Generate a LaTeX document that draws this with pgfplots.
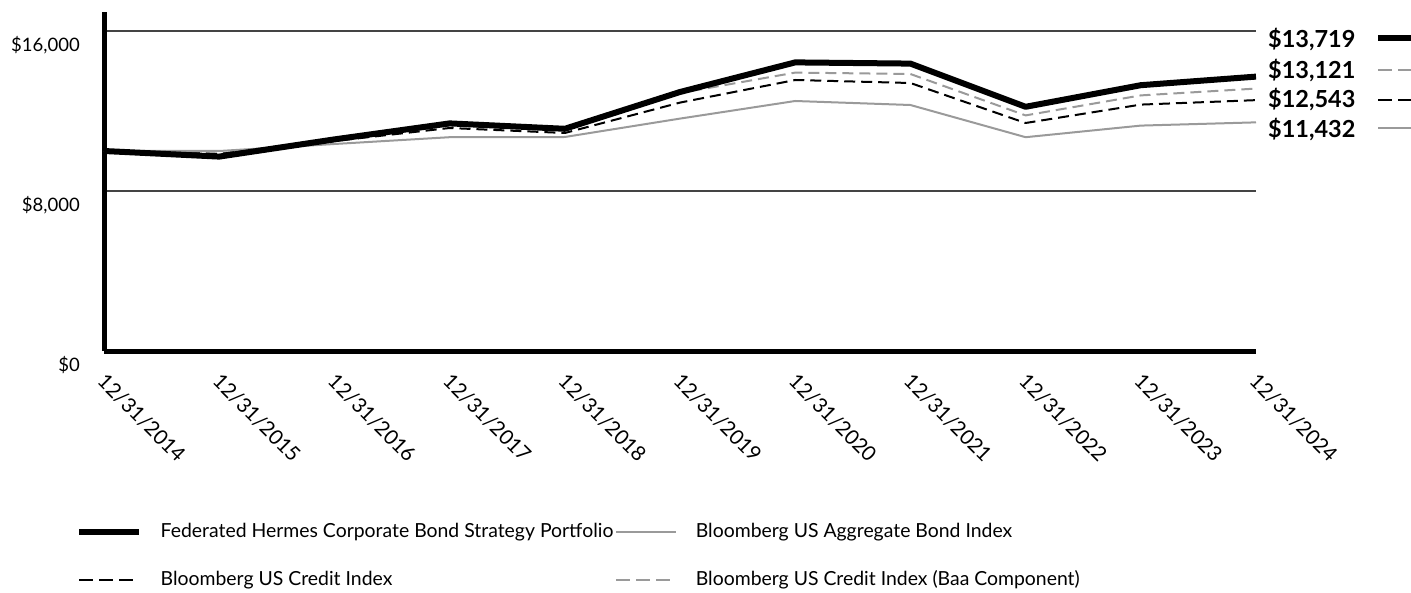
\documentclass[border=0pt]{standalone}
\usepackage{pgfplots}
\pgfplotsset{compat=1.18}
\usepackage{fontspec}
\setmainfont{Lato}
\definecolor{lgray}{HTML}{9A9A9A}
\definecolor{gridc}{HTML}{444444}
\begin{document}
\begin{tikzpicture}
\useasboundingbox (0pt,0pt) rectangle (1411pt,592pt);
\begin{axis}[
  at={(104pt,241pt)}, anchor=south west,
  scale only axis, width=1152pt, height=339pt,
  xmin=0, xmax=10, ymin=0, ymax=16950,
  axis x line=bottom, axis y line=left,
  axis line style={line width=5pt,-},
  scaled y ticks=false,
  xtick={0,...,10},
  xticklabels={12/31/2014,12/31/2015,12/31/2016,12/31/2017,12/31/2018,12/31/2019,12/31/2020,12/31/2021,12/31/2022,12/31/2023,12/31/2024},
  ytick={0,8000,16000},
  yticklabels={{\$0},{\$8,000},{\$16,000}},
  major tick length=0pt,
  ymajorgrids, grid style={line width=1.5pt, color=gridc},
  yticklabel style={font=\fontsize{18.5}{22}\selectfont, anchor=east, inner sep=0pt, xshift=-24pt, yshift=-14pt},
  xticklabel style={font=\fontsize{20.5}{24}\selectfont, xshift=3pt, yshift=-21pt, rotate=-45, anchor=north west, inner sep=0pt},
  legend columns=2,
  legend style={at={(axis description cs:-0.0243,-0.5074)}, anchor=north west, draw=none, fill=none, inner sep=0pt,
    font=\fontsize{19.4}{22}\selectfont,
    nodes={inner sep=0pt, text height=14pt, text depth=4.5pt},
    row sep=29.5pt,
    /tikz/every odd column/.append style={column sep=18.5pt},
    /tikz/every even column/.append style={column sep=2pt}},
  legend cell align=left,
  legend image code/.code={\draw[#1] (0pt,0pt) -- (60pt,0pt);},
  clip=false,
]
% draw order: aggregate, baa, credit, portfolio
\addplot[forget plot, lgray, line width=2pt, line join=round] coordinates {
 (0,10000) (1,10000) (2,10350) (3,10690) (4,10700) (5,11620) (6,12500) (7,12300) (8,10690) (9,11270) (10,11432)};
\addplot[forget plot, lgray, line width=2pt, dash pattern=on 11pt off 6pt, line join=round] coordinates {
 (0,10000) (1,9870) (2,10580) (3,11280) (4,11030) (5,12900) (6,13920) (7,13850) (8,11780) (9,12780) (10,13121)};
\addplot[forget plot, black, line width=2pt, dash pattern=on 11pt off 6pt, line join=round] coordinates {
 (0,10000) (1,9850) (2,10500) (3,11150) (4,10900) (5,12420) (6,13550) (7,13400) (8,11400) (9,12320) (10,12543)};
\addplot[forget plot, black, line width=6pt, line join=round] coordinates {
 (0,10000) (1,9720) (2,10580) (3,11380) (4,11110) (5,12950) (6,14430) (7,14370) (8,12210) (9,13290) (10,13719)};
\addlegendimage{black, line width=6pt}
\addlegendentry{Federated Hermes Corporate Bond Strategy Portfolio}
\addlegendimage{lgray, line width=2pt}
\addlegendentry{Bloomberg US Aggregate Bond Index}
\addlegendimage{black, line width=2pt, dash pattern=on 14pt off 6pt}
\addlegendentry{Bloomberg US Credit Index}
\addlegendimage{lgray, line width=2pt, dash pattern=on 14pt off 6pt}
\addlegendentry{Bloomberg US Credit Index (Baa Component)}
\end{axis}
% right-hand value labels
\begin{scope}[every node/.style={anchor=base west, inner sep=0pt, font=\fontsize{23.5}{26}\selectfont\bfseries}]
\node at (1268pt,544pt) {\$13,719};
\node at (1268pt,513pt) {\$13,121};
\node at (1268pt,484pt) {\$12,543};
\node at (1268pt,454pt) {\$11,432};
\end{scope}
\draw[black, line width=6pt] (1378pt,554pt) -- (1411pt,554pt);
\draw[lgray, line width=2pt, dash pattern=on 14pt off 6pt] (1378pt,522pt) -- (1411pt,522pt);
\draw[black, line width=2pt, dash pattern=on 14pt off 6pt] (1378pt,492pt) -- (1411pt,492pt);
\draw[lgray, line width=2pt] (1378pt,464pt) -- (1411pt,464pt);
\end{tikzpicture}
\end{document}
